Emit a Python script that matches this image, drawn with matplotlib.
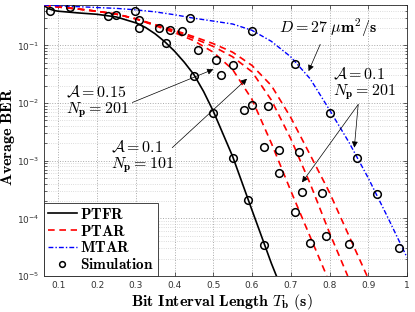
import matplotlib
matplotlib.use("Agg")
import matplotlib.pyplot as plt
import numpy as np

plt.rcParams['mathtext.fontset'] = 'cm'
plt.rcParams['font.family'] = ['DejaVu Sans']

# ---------------- data ----------------
ptfr_x = [0.063, 0.075, 0.09, 0.1, 0.15, 0.2, 0.25, 0.3, 0.325, 0.35, 0.375, 0.4, 0.425,
          0.45, 0.475, 0.5, 0.55, 0.6, 0.65, 0.663]
ptfr_y = [0.49, 0.43, 0.40, 0.39, 0.365, 0.345, 0.31, 0.245, 0.204, 0.158, 0.115, 0.079, 0.051,
          0.031, 0.0158, 0.0072, 0.00118, 0.000138, 1.65e-5, 1e-5]

ptar1_x = [0.063, 0.1, 0.15, 0.2, 0.25, 0.3, 0.35, 0.4, 0.45, 0.5, 0.55, 0.6, 0.65, 0.7, 0.75, 0.793]
ptar1_y = [0.501, 0.462, 0.427, 0.389, 0.347, 0.288, 0.219, 0.166, 0.120, 0.0759, 0.0380, 0.0115,
           0.0020, 3.0e-4, 4.8e-5, 1e-5]
ptar2_x = [0.063, 0.1, 0.15, 0.2, 0.25, 0.3, 0.35, 0.4, 0.45, 0.5, 0.55, 0.6, 0.65, 0.7, 0.75, 0.8, 0.847]
ptar2_y = [0.501, 0.462, 0.427, 0.389, 0.347, 0.288, 0.224, 0.174, 0.132, 0.0955, 0.0631, 0.0347,
           0.0112, 0.0024, 4.0e-4, 5.6e-5, 1e-5]
ptar3_x = [0.063, 0.1, 0.15, 0.2, 0.25, 0.3, 0.35, 0.4, 0.45, 0.5, 0.55, 0.6, 0.65, 0.7, 0.75, 0.8, 0.85, 0.897]
ptar3_y = [0.501, 0.462, 0.427, 0.389, 0.347, 0.288, 0.229, 0.182, 0.141, 0.107, 0.0759, 0.0447,
           0.0200, 0.0056, 1.26e-3, 2.8e-4, 5.0e-5, 1e-5]

mtar_x = [0.063, 0.1, 0.15, 0.2, 0.25, 0.3, 0.35, 0.4, 0.45, 0.5, 0.55, 0.6, 0.65, 0.7, 0.75,
          0.8, 0.85, 0.9, 0.95, 1.0]
mtar_y = [0.50, 0.484, 0.468, 0.452, 0.437, 0.412, 0.380, 0.339, 0.295, 0.263, 0.234, 0.182,
          0.117, 0.0631, 0.0263, 0.00759, 0.00209, 5.0e-4, 1.05e-4, 2.1e-5]

sim_ptfr_x = [0.078, 0.229, 0.309, 0.379, 0.45, 0.5, 0.55, 0.59, 0.63]
sim_ptfr_y = [0.395, 0.32, 0.2, 0.11, 0.029, 0.0068, 0.0011, 0.00021, 3.5e-5]
sim_mtar_x = [0.129, 0.298, 0.44, 0.6, 0.711, 0.8, 0.87, 0.922, 0.98]
sim_mtar_y = [0.46, 0.39, 0.295, 0.178, 0.047, 0.0068, 0.0011, 0.00026, 3e-5]
sim_ptar_x = [0.248, 0.309, 0.359, 0.389, 0.42, 0.46, 0.508, 0.52, 0.55, 0.578, 0.6, 0.64,
              0.63, 0.67, 0.721, 0.67, 0.73, 0.78, 0.71, 0.75, 0.79, 0.85]
sim_ptar_y = [0.34, 0.27, 0.2, 0.187, 0.175, 0.084, 0.056, 0.030, 0.045, 0.0075, 0.0091, 0.0087,
              0.0017, 0.00155, 0.0014, 0.00062, 0.00029, 0.00028, 0.000127, 3.7e-5, 4.9e-5, 3.6e-5]

xticks = [0.1, 0.2, 0.3, 0.4, 0.5, 0.6, 0.7, 0.8, 0.9, 1.0]
xtick_labels = ['0.1', '0.2', '0.3', '0.4', '0.5', '0.6', '0.7', '0.8', '0.9', '1']

# ---------------- figure ----------------
fig = plt.figure(figsize=(4.15, 3.12), dpi=100)
ax = fig.add_axes([44/415, 36/312, 363/415, 271/312])

red_ls = (0, (4, 2.8))
blue_ls = (0, (3.5, 1.5, 1.0, 1.5))

ax.plot(ptfr_x, ptfr_y, color='k', lw=1.2, label=r'$\mathbf{PTFR}$', zorder=3)
ax.plot(ptar1_x, ptar1_y, color='#ff0000', lw=1.2, ls=red_ls, label=r'$\mathbf{PTAR}$', zorder=3)
ax.plot(ptar2_x, ptar2_y, color='#ff0000', lw=1.2, ls=red_ls, zorder=3)
ax.plot(ptar3_x, ptar3_y, color='#ff0000', lw=1.2, ls=red_ls, zorder=3)
ax.plot(mtar_x, mtar_y, color='#0000ff', lw=1.0, ls=blue_ls, label=r'$\mathbf{MTAR}$', zorder=3)

mk = dict(ls='none', marker='o', ms=5.5, mfc='none', mec='k', mew=1.1, zorder=4)
ax.plot(sim_ptfr_x, sim_ptfr_y, label=r'$\mathbf{Simulation}$', **mk)
ax.plot(sim_mtar_x, sim_mtar_y, **mk)
ax.plot(sim_ptar_x, sim_ptar_y, **mk)

ax.set_yscale('log')
ax.set_xlim(0.063, 1.0)
ax.set_ylim(1e-5, 0.5)
ax.set_xticks(xticks)
ax.set_xticklabels(xtick_labels)

ax.grid(True, which='major', ls=':', color='#a8a8a8', lw=0.7)
ax.grid(True, which='minor', axis='y', ls=':', color='#d0d0d0', lw=0.6)
ax.tick_params(which='both', direction='in', top=True, right=True, labelsize=6.5,
               labelcolor='#333333', color='#262626', width=0.5)
ax.tick_params(which='major', length=3)
ax.tick_params(which='minor', length=1.8)
for s in ax.spines.values():
    s.set_linewidth(0.6)
    s.set_color('#262626')

ax.set_xlabel(r'$\mathbf{Bit\ Interval\ Length}\ T_{\mathbf{b}}\ \mathbf{(s)}$', fontsize=11.5)
ax.xaxis.set_label_coords(0.49, -0.058)
ax.set_ylabel(r'$\mathbf{Average\ BER}$', fontsize=11.5, va='center')
ax.yaxis.set_label_coords(-0.099, 0.515)

leg = ax.legend(loc='lower left', fontsize=11, frameon=True, fancybox=False, framealpha=1,
                edgecolor='#262626', borderaxespad=0, handlelength=1.9, handletextpad=0.2,
                labelspacing=0.12, borderpad=0.25, markerscale=0.75)
leg.get_frame().set_linewidth(0.6)

tkw = dict(fontsize=11.5, color='k', linespacing=1.0, zorder=5)
ax.text(0.119, 0.0102, r'$\mathcal{A} = \mathbf{0.15}$' + '\n' + r'$N_{\mathbf{p}} = \mathbf{201}$',
        ha='left', va='center', **tkw)
ax.text(0.235, 0.00113, r'$\mathcal{A} = \mathbf{0.1}$' + '\n' + r'$N_{\mathbf{p}} = \mathbf{101}$',
        ha='left', va='center', **tkw)
ax.text(0.670, 0.203, r'$D = \mathbf{27}\ \mu\mathbf{m}^{\mathbf{2}}\mathbf{/s}$',
        ha='left', va='center', **tkw)
ax.text(0.809, 0.021, r'$\mathcal{A} = \mathbf{0.1}$' + '\n' + r'$N_{\mathbf{p}} = \mathbf{201}$',
        ha='left', va='center', **tkw)

ap = dict(arrowstyle='-|>', color='k', lw=0.5, mutation_scale=9, shrinkA=0, shrinkB=0)
ax.annotate('', xy=(0.5, 0.0383), xytext=(0.291, 0.0102), arrowprops=ap, zorder=5)
ax.annotate('', xy=(0.587, 0.0263), xytext=(0.394, 0.00168), arrowprops=ap, zorder=5)
ax.annotate('', xy=(0.746, 0.0357), xytext=(0.776, 0.104), arrowprops=ap, zorder=5)
ax.annotate('', xy=(0.864, 0.00168), xytext=(0.874, 0.0094), arrowprops=ap, zorder=5)
ax.annotate('', xy=(0.729, 0.00042), xytext=(0.874, 0.0094), arrowprops=ap, zorder=5)

fig.savefig('out.png', dpi=100)
